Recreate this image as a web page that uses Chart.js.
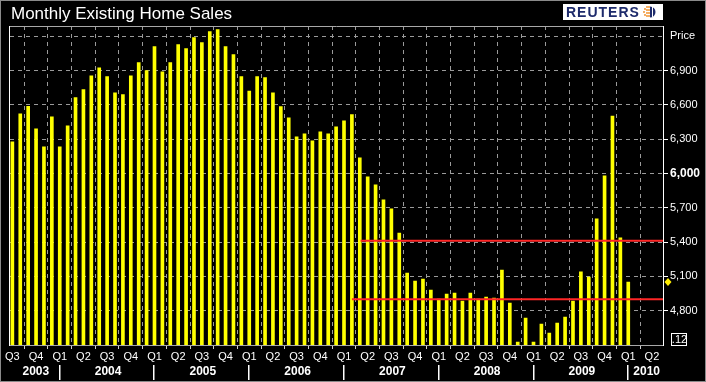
<!DOCTYPE html>
<html>
<head>
<meta charset="utf-8">
<script src="https://cdn.jsdelivr.net/npm/chart.js@4/dist/chart.umd.min.js"></script>
<style>
  html, body { margin: 0; padding: 0; background: #000; }
  #wrap { width: 706px; height: 382px; position: relative; }
</style>
</head>
<body>
<div id="wrap"><canvas id="c" width="706" height="382"></canvas></div>
<script>
// ---- Data ----
const chartTitle = 'Monthly Existing Home Sales';
const axisTitle = 'Price';
const firstMonth = { year: 2003, month: 7 }; // July 2003
// Existing home sales, thousands (SAAR), Jul 2003 .. Jan 2010
const salesValues = [
  6277, 6522, 6587, 6391, 6233, 6496,                               // 2003 H2
  6233, 6417, 6663, 6733, 6855, 6925, 6847, 6706, 6689, 6855, 6969, 6899, // 2004
  7110, 6890, 6969, 7127, 7092, 7188, 7145, 7241, 7259, 7110, 7040, 6847, // 2005
  6721, 6847, 6838, 6706, 6584, 6487, 6321, 6347, 6286, 6365, 6347, 6408, // 2006
  6461, 6514, 6137, 5970, 5900, 5769, 5690, 5479, 5129, 5059, 5076, 4980, // 2007
  4901, 4945, 4954, 4883, 4954, 4901, 4919, 4910, 5155, 4866, 4524, 4734, // 2008
  4524, 4682, 4603, 4691, 4743, 4883, 5138, 5094, 5602, 5979, 6502, 5436, // 2009
  5050                                                              // 2010
];
// Horizontal reference lines (level, starting month index)
const refLevels = [4900, 5410];
const refStartIdx = [43, 44.1];
const quarterLabels = [
  'Q3','Q4',
  'Q1','Q2','Q3','Q4',
  'Q1','Q2','Q3','Q4',
  'Q1','Q2','Q3','Q4',
  'Q1','Q2','Q3','Q4',
  'Q1','Q2','Q3','Q4',
  'Q1','Q2','Q3','Q4',
  'Q1','Q2'
];
const years = ['2003','2004','2005','2006','2007','2008','2009','2010'];
const yTickValues = [4800, 5100, 5400, 5700, 6000, 6300, 6600, 6900, 7200];
const scaleBoxLabel = '.12';

// ---- Derived ----
const quarterTickIdx = quarterLabels.map((_, i) => i * 3);
const barData = salesValues.map((v, i) => ({ x: i, y: v }));
const X_MIN = -0.3, X_MAX = 82.4;
const Y_MIN = 4490, Y_MAX = 7290;
const refDatasets = refLevels.map((lvl, j) => ({
  type: 'line',
  data: [{ x: refStartIdx[j], y: lvl }, { x: X_MAX, y: lvl }],
  borderColor: '#ff2626',
  borderWidth: 2,
  pointRadius: 0,
  order: 0
}));

const FONT = '"Liberation Sans", Arial, sans-serif';

const decor = {
  id: 'decor',
  beforeDraw(chart) {
    const ctx = chart.ctx;
    ctx.save();
    ctx.fillStyle = '#000';
    ctx.fillRect(0, 0, chart.width, chart.height);
    ctx.restore();
  },
  afterDraw(chart) {
    const ctx = chart.ctx, a = chart.chartArea;
    const xs = chart.scales.x, ys = chart.scales.y;
    ctx.save();
    // outer border
    ctx.strokeStyle = '#8a8a8a';
    ctx.lineWidth = 1;
    ctx.strokeRect(0.5, 0.5, chart.width - 1, chart.height - 1);
    // title
    ctx.fillStyle = '#fff';
    ctx.font = '17px ' + FONT;
    ctx.textBaseline = 'alphabetic';
    ctx.textAlign = 'left';
    ctx.fillText(chartTitle, 11, 19);
    // Reuters logo
    ctx.fillStyle = '#fff';
    ctx.fillRect(563, 4, 100, 16);
    ctx.fillStyle = '#1d2a6b';
    ctx.font = 'bold 14px ' + FONT;
    try { ctx.letterSpacing = '1px'; } catch (e) {}
    ctx.fillText('REUTERS', 566, 17);
    try { ctx.letterSpacing = '0px'; } catch (e) {}
    // globe
    const gx = 649, gy = 12;
    ctx.fillStyle = '#f08a1c';
    [[-4,-3],[-5,0],[-4,3],[-2,-5],[-2,-2],[-2,1],[-2,4],[0,-5],[0,-2],[0,1],[0,4]].forEach(p => {
      ctx.beginPath(); ctx.arc(gx + p[0], gy + p[1], 0.9, 0, Math.PI * 2); ctx.fill();
    });
    ctx.fillStyle = '#1d2a6b';
    ctx.beginPath(); ctx.arc(gx + 1, gy, 5.5, -Math.PI / 2, Math.PI / 2); ctx.fill();
    ctx.strokeStyle = '#fff'; ctx.lineWidth = 1;
    ctx.beginPath(); ctx.moveTo(gx + 3.5, gy - 5); ctx.lineTo(gx + 3.5, gy + 5); ctx.stroke();

    // plot frame
    ctx.lineWidth = 1;
    ctx.strokeStyle = '#a8a8a8';
    ctx.beginPath(); ctx.moveTo(a.left, a.top + 0.5); ctx.lineTo(a.right, a.top + 0.5); ctx.stroke();
    ctx.beginPath(); ctx.moveTo(a.left, a.bottom - 0.5); ctx.lineTo(a.right, a.bottom - 0.5); ctx.stroke();
    ctx.strokeStyle = '#fff';
    ctx.beginPath(); ctx.moveTo(a.left - 0.5, a.top); ctx.lineTo(a.left - 0.5, a.bottom); ctx.stroke();
    ctx.beginPath(); ctx.moveTo(a.right + 0.5, a.top); ctx.lineTo(a.right + 0.5, a.bottom); ctx.stroke();

    // year row
    ctx.fillStyle = '#fff';
    ctx.font = 'bold 12px ' + FONT;
    ctx.textAlign = 'center';
    ctx.textBaseline = 'middle';
    const startOffset = 12 - firstMonth.month + 1; // index of first January
    years.forEach((yr, k) => {
      const s = Math.max(startOffset + (k - 1) * 12, X_MIN);
      const e = Math.min(startOffset + k * 12, X_MAX);
      const x0 = xs.getPixelForValue(s), x1 = xs.getPixelForValue(e);
      ctx.fillText(yr, (x0 + x1) / 2 + 1, 372);
      if (k > 0) {
        const sx = Math.round(xs.getPixelForValue(startOffset + (k - 1) * 12));
        ctx.fillRect(sx - 1, 365, 1.5, 15);
      }
    });

    // last value diamond
    const lastV = salesValues[salesValues.length - 1];
    const dy = ys.getPixelForValue(lastV), dx = a.right + 5;
    ctx.fillStyle = '#ffee00';
    ctx.beginPath();
    ctx.moveTo(dx, dy - 4); ctx.lineTo(dx + 3.5, dy); ctx.lineTo(dx, dy + 4); ctx.lineTo(dx - 3.5, dy);
    ctx.closePath(); ctx.fill();

    // scale box
    ctx.strokeStyle = '#fff';
    ctx.lineWidth = 1;
    ctx.strokeRect(671.5, 333.5, 15, 12);
    ctx.fillStyle = '#fff';
    ctx.font = '11px ' + FONT;
    ctx.textAlign = 'center';
    ctx.fillText(scaleBoxLabel, 679.5, 340);
    ctx.restore();
  }
};

new Chart(document.getElementById('c'), {
  type: 'bar',
  data: {
    datasets: [
      ...refDatasets,
      {
        type: 'bar',
        data: barData,
        backgroundColor: '#ffff00',
        borderWidth: 0,
        barThickness: 3,
        grouped: false,
        order: 1
      }
    ]
  },
  options: {
    responsive: false,
    animation: false,
    devicePixelRatio: 1,
    layout: { padding: { left: 10, top: 26, right: 0, bottom: 0 } },
    plugins: { legend: { display: false }, tooltip: { enabled: false }, title: { display: false } },
    scales: {
      x: {
        type: 'linear',
        min: X_MIN,
        max: X_MAX,
        offset: false,
        afterBuildTicks: (s) => { s.ticks = quarterTickIdx.map(v => ({ value: v })); },
        afterFit: (s) => { s.height = 36; },
        grid: {
          color: '#9a9a9a',
          lineWidth: 1,
          drawTicks: true,
          tickLength: 3,
          tickColor: '#cfcfcf',
          tickBorderDash: []
        },
        border: { display: false, dash: [4, 4] },
        ticks: {
          autoSkip: false,
          maxRotation: 0,
          minRotation: 0,
          padding: 1,
          color: '#fff',
          font: { family: FONT, size: 11 },
          callback: (v, i) => quarterLabels[i]
        }
      },
      y: {
        type: 'linear',
        position: 'right',
        min: Y_MIN,
        max: Y_MAX,
        afterBuildTicks: (s) => { s.ticks = yTickValues.map(v => ({ value: v })); },
        afterFit: (s) => { s.width = 43; },
        grid: {
          color: '#9a9a9a',
          lineWidth: 1,
          drawTicks: true,
          tickLength: 5,
          tickColor: (c) => (c.tick && c.tick.value === 7200) ? 'rgba(0,0,0,0)' : '#fff',
          tickBorderDash: []
        },
        border: { display: false, dash: [4, 4] },
        ticks: {
          autoSkip: false,
          padding: 2,
          color: '#fff',
          font: (c) => (c.tick && c.tick.value === 6000)
            ? { family: FONT, size: 12, weight: 'bold' }
            : { family: FONT, size: 11 },
          callback: (v) => v === 7200 ? axisTitle : v.toLocaleString('en-US')
        }
      }
    }
  },
  plugins: [decor]
});
</script>
</body>
</html>
